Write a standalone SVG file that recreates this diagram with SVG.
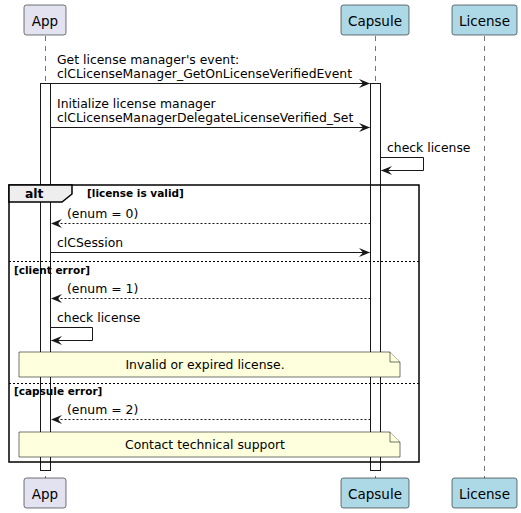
<svg xmlns="http://www.w3.org/2000/svg" width="521" height="513" viewBox="0 0 521 513">
<defs>
<style>
text{font-family:"DejaVu Sans","Liberation Sans",sans-serif;fill:#000}
.msg{font-size:12.4px}
.pname{font-size:13.5px}
.cond{font-size:10.5px;font-weight:bold}
.life{stroke:#181818;stroke-width:0.6;stroke-dasharray:5,5;fill:none}
.act{fill:#fff;stroke:#181818;stroke-width:1}
.line{stroke:#181818;stroke-width:1;fill:none}
.dash{stroke:#181818;stroke-width:1;stroke-dasharray:2,2;fill:none}
.sep{stroke:#000;stroke-width:1;stroke-dasharray:2,2;fill:none}
.pA{fill:#E2E2F0;stroke:#181818;stroke-width:0.6}
.pB{fill:#ADD8E6;stroke:#181818;stroke-width:0.6}
.note{fill:#FEFFDD;stroke:#181818;stroke-width:0.6}
</style>
<marker id="ah" viewBox="0 0 11 9" refX="10.5" refY="4.5" markerWidth="11" markerHeight="9" markerUnits="userSpaceOnUse" orient="auto">
<path d="M0,0 L11,4.5 L0,9 L4,4.5 Z" fill="#181818"/>
</marker>
</defs>
<rect width="521" height="513" fill="#fff"/>
<g id="lifelines">
<line class="life" x1="45.5" y1="36" x2="45.5" y2="478"/>
<line class="life" x1="375.5" y1="36" x2="375.5" y2="478"/>
<line class="life" x1="484.5" y1="36" x2="484.5" y2="478"/>
</g>
<g id="participant-App">
<rect class="pA" x="24" y="5" width="42" height="30" rx="2.5"/>
<text class="pname" x="45" y="26" text-anchor="middle">App</text>
<rect class="pA" x="24" y="478" width="42" height="30" rx="2.5"/>
<text class="pname" x="45" y="499" text-anchor="middle">App</text>
</g>
<g id="participant-Capsule">
<rect class="pB" x="341" y="5" width="68" height="30" rx="2.5"/>
<text class="pname" x="375" y="26" text-anchor="middle">Capsule</text>
<rect class="pB" x="341" y="478" width="68" height="30" rx="2.5"/>
<text class="pname" x="375" y="499" text-anchor="middle">Capsule</text>
</g>
<g id="participant-License">
<rect class="pB" x="452" y="5" width="65" height="30" rx="2.5"/>
<text class="pname" x="484.5" y="26" text-anchor="middle">License</text>
<rect class="pB" x="452" y="478" width="65" height="30" rx="2.5"/>
<text class="pname" x="484.5" y="499" text-anchor="middle">License</text>
</g>
<g id="activations">
<rect class="act" x="40.5" y="83.5" width="10" height="387"/>
<rect class="act" x="370.5" y="83.5" width="10" height="387"/>
</g>
<g id="alt-fragment">
<rect x="9" y="185" width="410" height="277" fill="none" stroke="#000" stroke-width="1.5"/>
<path d="M9,185 L72,185 L72,194 L62,202 L9,202 Z" fill="#EEEEEE" stroke="#000" stroke-width="1.5"/>
<text x="25" y="198" style="font-size:12.4px;font-weight:bold">alt</text>
<text class="cond" x="87" y="197">[license is valid]</text>
<line class="sep" x1="9" y1="261.5" x2="419" y2="261.5"/>
<text class="cond" x="14" y="274">[client error]</text>
<line class="sep" x1="9" y1="383.5" x2="419" y2="383.5"/>
<text class="cond" x="14" y="395">[capsule error]</text>
</g>
<g id="connectors">
<line class="line" x1="45" y1="83.5" x2="369.5" y2="83.5" marker-end="url(#ah)"/>
<text class="msg" x="57" y="64">Get license manager's event:</text>
<text class="msg" x="57" y="78">clCLicenseManager_GetOnLicenseVerifiedEvent</text>
<line class="line" x1="50.5" y1="127.5" x2="369.5" y2="127.5" marker-end="url(#ah)"/>
<text class="msg" x="57" y="108">Initialize license manager</text>
<text class="msg" x="57" y="122">clCLicenseManagerDelegateLicenseVerified_Set</text>
<polyline class="line" points="380.5,157.5 423.5,157.5 423.5,170.5 381.5,170.5" marker-end="url(#ah)"/>
<text class="msg" x="387" y="152">check license</text>
<line class="dash" x1="370.5" y1="223.5" x2="51.5" y2="223.5" marker-end="url(#ah)"/>
<text class="msg" x="67" y="218">(enum = 0)</text>
<line class="line" x1="50.5" y1="252.5" x2="369.5" y2="252.5" marker-end="url(#ah)"/>
<text class="msg" x="57" y="247">clCSession</text>
<line class="dash" x1="370.5" y1="298.5" x2="51.5" y2="298.5" marker-end="url(#ah)"/>
<text class="msg" x="67" y="293">(enum = 1)</text>
<polyline class="line" points="50.5,327.5 92.5,327.5 92.5,340.5 51.5,340.5" marker-end="url(#ah)"/>
<text class="msg" x="57" y="322">check license</text>
<line class="dash" x1="370.5" y1="419.5" x2="51.5" y2="419.5" marker-end="url(#ah)"/>
<text class="msg" x="67" y="414">(enum = 2)</text>
</g>
<g id="note-invalid">
<path class="note" d="M19,352 L390,352 L400,362 L400,377 L19,377 Z"/>
<path class="note" d="M390,352 L390,362 L400,362"/>
<text class="msg" x="205" y="369" text-anchor="middle">Invalid or expired license.</text>
</g>
<g id="note-support">
<path class="note" d="M19,432 L390,432 L400,442 L400,457 L19,457 Z"/>
<path class="note" d="M390,432 L390,442 L400,442"/>
<text class="msg" x="205" y="449" text-anchor="middle">Contact technical support</text>
</g>
</svg>
